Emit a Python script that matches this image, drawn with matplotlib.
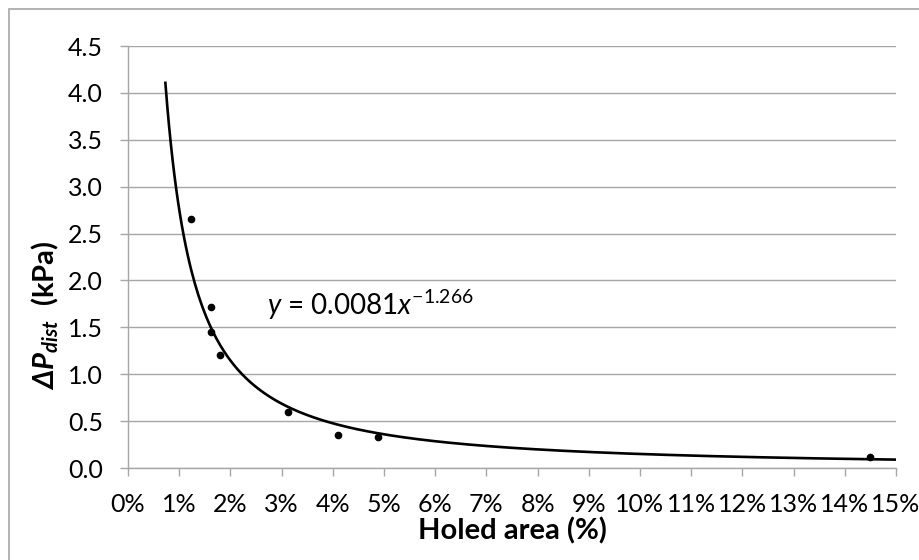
import numpy as np
import matplotlib
matplotlib.use('Agg')
import matplotlib.pyplot as plt
from matplotlib.ticker import FuncFormatter, MultipleLocator
from matplotlib.patches import Rectangle

plt.rcParams['font.family'] = ['Lato', 'DejaVu Sans']
plt.rcParams['mathtext.fontset'] = 'custom'
plt.rcParams['mathtext.rm'] = 'Lato'
plt.rcParams['mathtext.it'] = 'Lato:italic'
plt.rcParams['mathtext.bf'] = 'Lato:bold'
plt.rcParams['mathtext.bfit'] = 'Lato:italic:bold'

# measured points (holed area as fraction, pressure drop kPa)
holed_area = [0.0123, 0.0162, 0.0162, 0.0180, 0.0312, 0.0410, 0.0488, 0.1450]
dp_dist = [2.65, 1.72, 1.45, 1.20, 0.60, 0.35, 0.33, 0.12]

# power trendline shown on the chart
coef_a = 0.0081
coef_b = -1.266
fit_start = 0.0073
fit_end = 0.15

grid_col = '#a6a6a6'

fig = plt.figure(figsize=(9.2, 5.6), dpi=100)
ax = fig.add_axes([128/920, 92/560, 768/920, 422/560])

xs = np.linspace(fit_start, fit_end, 400)
ax.plot(xs, coef_a * xs**coef_b, color='black', lw=1.9, zorder=3)
ax.plot(holed_area, dp_dist, 'o', color='black', ms=4.5, zorder=4)

ax.set_xlim(0, 0.15)
ax.set_ylim(0, 4.5)
ax.xaxis.set_major_locator(MultipleLocator(0.01))
ax.yaxis.set_major_locator(MultipleLocator(0.5))
ax.xaxis.set_major_formatter(FuncFormatter(lambda v, p: '%d%%' % round(v*100)))
ax.yaxis.set_major_formatter(FuncFormatter(lambda v, p: '%.1f' % v))

ax.grid(axis='y', color=grid_col, lw=1)
ax.set_axisbelow(True)
for s in ['top', 'right']:
	ax.spines[s].set_visible(False)
for s in ['left', 'bottom']:
	ax.spines[s].set_color(grid_col)
	ax.spines[s].set_linewidth(1)
ax.tick_params(axis='both', direction='out', length=6, width=1, color=grid_col, labelsize=18)
ax.tick_params(axis='y', pad=12)
ax.tick_params(axis='x', pad=12)

ax.text(0.0271, 1.74, r'$y$ = 0.0081$x^{\mathregular{-1.266}}$', fontsize=20, va='center', ha='left')

fig.text(512/920, 1-531/560, 'Holed area (%)', fontsize=21, fontweight='bold', ha='center', va='center')
fig.text(45/920, 1-315/560, r'$\mathbfit{\Delta P}_{\mathbfit{dist}}$  (kPa)', fontsize=21, fontweight='bold',
	rotation=90, ha='center', va='center')

# chart area frame, only top and left edges fall inside the image
fig.patches.append(Rectangle((9/920, -0.05), 1.0, 1.05 - 9/560, transform=fig.transFigure,
	fill=False, edgecolor=grid_col, lw=1.2))

plt.savefig('out.png', dpi=100)
